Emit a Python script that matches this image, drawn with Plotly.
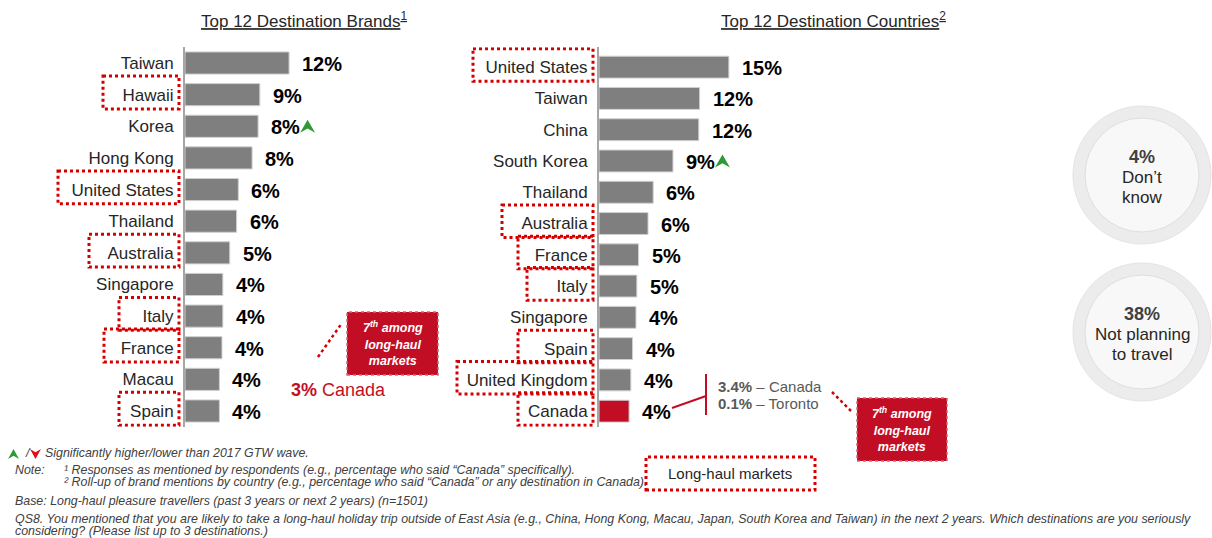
import plotly.graph_objects as go

W, H = 1212, 538

# left chart: destination brands
brands = ["Taiwan", "Hawaii", "Korea", "Hong Kong", "United States", "Thailand",
          "Australia", "Singapore", "Italy", "France", "Macau", "Spain"]
brand_vals = [12.1, 8.7, 8.5, 7.8, 6.2, 6.0, 5.2, 4.4, 4.4, 4.3, 4.0, 4.0]
brand_txt = ["12%", "9%", "8%", "8%", "6%", "6%", "5%", "4%", "4%", "4%", "4%", "4%"]
brand_up = ["Korea"]
brand_boxed = ["Hawaii", "United States", "Australia", "Italy", "France", "Spain"]

# right chart: destination countries
countries = ["United States", "Taiwan", "China", "South Korea", "Thailand", "Australia",
             "France", "Italy", "Singapore", "Spain", "United Kingdom", "Canada"]
country_vals = [15.1, 11.7, 11.6, 8.6, 6.3, 5.7, 4.6, 4.4, 4.3, 3.9, 3.7, 3.5]
country_txt = ["15%", "12%", "12%", "9%", "6%", "6%", "5%", "5%", "4%", "4%", "4%", "4%"]
country_up = ["South Korea"]
country_boxed = ["United States", "Australia", "France", "Italy", "Spain", "United Kingdom", "Canada"]

GRAY = "#7f7f7f"
RED = "#c20e25"
DOT_RED = "#d40000"
GREEN = "#2f9a35"
FONT = "Liberation Sans, Arial"
NARROW = "Liberation Sans Narrow, Arial Narrow, Liberation Sans"

# left edge (px) of the dotted boxes around highlighted labels
box_left = {
    "x": {"Hawaii": 103, "United States": 58, "Australia": 89, "Italy": 119, "France": 104, "Spain": 119},
    "x2": {"United States": 473, "Australia": 502, "France": 518, "Italy": 527, "Spain": 518,
           "United Kingdom": 457, "Canada": 518},
}
box_right = {"x": 179, "x2": 593}


def px(x):
    return x / W


def py(y):
    return 1 - y / H


def arrow(up=True, dx=0, w=15, h=13):
    # navigation-style arrowhead, pixel offsets (y up)
    s = 1 if up else -1
    return (f"M{dx + w / 2},{s * h / 2} L{dx + w},{-s * h / 2} L{dx + w / 2},{-s * h / 6} "
            f"L{dx},{-s * h / 2} Z")


def note(x, y, text, size=15, color="#262626", xanchor="left", family=None):
    f = dict(size=size, color=color)
    if family:
        f["family"] = family
    return dict(x=px(x), y=py(y), xref="paper", yref="paper", showarrow=False,
                xanchor=xanchor, yanchor="middle", text=text, font=f)


fig = go.Figure()

fig.add_trace(go.Bar(x=brand_vals, y=brands, orientation="h", width=0.7,
                     marker=dict(color=GRAY, line=dict(color="#d0d0d0", width=1)),
                     xaxis="x", yaxis="y", hoverinfo="skip"))
fig.add_trace(go.Bar(x=country_vals, y=countries, orientation="h", width=0.7,
                     marker=dict(color=[RED if c == "Canada" else GRAY for c in countries],
                                 line=dict(color="#d0d0d0", width=1)),
                     xaxis="x2", yaxis="y2", hoverinfo="skip"))

ydom = [py(426.8), py(47.2)]
yax = dict(domain=ydom, autorange="reversed", showgrid=False, zeroline=False,
           showline=True, linecolor="#a6a6a6", linewidth=2, ticks="",
           ticklabelstandoff=6, tickfont=dict(family=FONT, size=17, color="#262626"))

fig.update_layout(
    width=W, height=H, margin=dict(l=0, r=0, t=0, b=0),
    paper_bgcolor="white", plot_bgcolor="white", showlegend=False,
    font=dict(family=FONT, color="#262626"),
    xaxis=dict(domain=[px(185), px(185 + 258)], range=[0, 30], visible=False),
    yaxis=dict(anchor="x", categoryorder="array", categoryarray=brands, **yax),
    xaxis2=dict(domain=[px(599), px(599 + 258)], range=[0, 30], visible=False),
    yaxis2=dict(anchor="x2", categoryorder="array", categoryarray=countries, **yax),
)

ann = []
shapes = []

# value labels, arrows and dotted boxes
for xa, ya, cats, vals, txt, ups, boxed in [
        ("x", "y", brands, brand_vals, brand_txt, brand_up, brand_boxed),
        ("x2", "y2", countries, country_vals, country_txt, country_up, country_boxed)]:
    for i, (c, v, t) in enumerate(zip(cats, vals, txt)):
        ann.append(dict(x=v, y=c, xref=xa, yref=ya, text=f"<b>{t}</b>", showarrow=False,
                        xanchor="left", yanchor="middle", xshift=11, yshift=-1,
                        font=dict(size=20, color="#000000")))
        if c in ups:
            shapes.append(dict(type="path", xref=xa, yref=ya, xsizemode="pixel", ysizemode="pixel",
                               xanchor=v, yanchor=c, path=arrow(True, dx=12 + 11 * len(t) + 8),
                               fillcolor=GREEN, line=dict(width=0)))
        if c in boxed:
            shapes.append(dict(type="rect", xref="paper", yref=ya,
                               x0=px(box_left[xa][c]), x1=px(box_right[xa]),
                               y0=i - 0.59, y1=i + 0.45,
                               line=dict(color=DOT_RED, width=3, dash="dot")))

# titles
ann.append(note(304, 20, "<u>Top 12 Destination Brands<sup>1</sup></u>", size=17, xanchor="center"))
ann.append(note(834, 20, "<u>Top 12 Destination Countries<sup>2</sup></u>", size=17, xanchor="center"))

# left chart: Canada note
ann.append(note(289, 390, "<b>3%</b> Canada", size=18, color=RED))
shapes.append(dict(type="line", xref="paper", yref="paper", x0=px(318), y0=py(357), x1=px(342), y1=py(323),
                   line=dict(color=DOT_RED, width=2.5, dash="dot")))


def red_box(x0, y0, x1, y1):
    shapes.append(dict(type="rect", xref="paper", yref="paper", x0=px(x0), x1=px(x1), y0=py(y1), y1=py(y0),
                       fillcolor=RED, line=dict(color="#e0606f", width=1.5, dash="dot")))
    ann.append(note((x0 + x1) / 2, (y0 + y1) / 2,
                    "<b><i>7<sup>th</sup> among<br>long-haul<br>markets</i></b>",
                    size=12.5, color="white", xanchor="center"))


red_box(347, 312, 438, 375)
red_box(857, 398, 947, 461)

# right chart: Canada breakdown
shapes.append(dict(type="line", xref="paper", yref="paper", x0=px(672), y0=py(408), x1=px(706), y1=py(396),
                   line=dict(color=RED, width=2)))
shapes.append(dict(type="line", xref="paper", yref="paper", x0=px(706), y0=py(374), x1=px(706), y1=py(415),
                   line=dict(color=RED, width=2)))
ann.append(note(716, 386, "<b>3.4%</b> – Canada", color="#595959"))
ann.append(note(716, 403, "<b>0.1%</b> – Toronto", color="#595959"))
shapes.append(dict(type="line", xref="paper", yref="paper", x0=px(832), y0=py(392), x1=px(851), y1=py(411),
                   line=dict(color=DOT_RED, width=2.5, dash="dot")))

# long-haul legend box
shapes.append(dict(type="rect", xref="paper", yref="paper", x0=px(646), x1=px(815), y0=py(490), y1=py(457),
                   line=dict(color=DOT_RED, width=3, dash="dot")))
ann.append(note(730, 473, "Long-haul markets", xanchor="center"))

# circles on the right
for cy, lines in [(175, ["<b>4%</b>", "Don’t", "know"]), (332, ["<b>38%</b>", "Not planning", "to travel"])]:
    cx = 1142
    for r, fill, lc in [(69, "#ececec", "#e4e4e4"), (57, "#f8f8f8", "#dedede")]:
        shapes.append(dict(type="circle", xref="paper", yref="paper",
                           x0=px(cx - r), x1=px(cx + r), y0=py(cy + r), y1=py(cy - r),
                           fillcolor=fill, line=dict(color=lc, width=1)))
    for j, t in enumerate(lines):
        ann.append(note(cx, cy - 18 + j * 20, t, size=18 if j == 0 else 17,
                        color="#404040" if j == 0 else "#262626", xanchor="center"))

# footnotes
foot = [
    (43, 453, "Significantly higher/lower than 2017 GTW wave."),
    (23, 453, "/"),
    (13, 470, "Note:"),
    (62, 470, "¹ Responses as mentioned by respondents (e.g., percentage who said “Canada” specifically)."),
    (62, 482, "² Roll-up of brand mentions by country (e.g., percentage who said “Canada” or any destination in Canada)."),
    (13, 501, "Base: Long-haul pleasure travellers (past 3 years or next 2 years) (n=1501)"),
    (13, 519, "QS8. You mentioned that you are likely to take a long-haul holiday trip outside of East Asia "
              "(e.g., China, Hong Kong, Macau, Japan, South Korea and Taiwan) in the next 2 years. "
              "Which destinations are you seriously"),
    (13, 531, "considering? (Please list up to 3 destinations.)"),
]
for x, y, t in foot:
    ann.append(note(x, y, f"<i>{t}</i>", size=12.4, color="#404040", family=NARROW))
shapes.append(dict(type="path", xref="paper", yref="paper", xsizemode="pixel", ysizemode="pixel",
                   xanchor=px(8), yanchor=py(454), path=arrow(True, w=11, h=10),
                   fillcolor=GREEN, line=dict(width=0)))
shapes.append(dict(type="path", xref="paper", yref="paper", xsizemode="pixel", ysizemode="pixel",
                   xanchor=px(30), yanchor=py(454), path=arrow(False, w=11, h=10),
                   fillcolor="#e0101a", line=dict(width=0)))

fig.update_layout(annotations=ann, shapes=shapes)
fig.write_html("out.html", config={"displayModeBar": False})

# drop the browser's default page margin so the figure sits at 0,0
with open("out.html", encoding="utf-8") as f:
    page = f.read()
page = page.replace("<body>", '<body style="margin:0">', 1)
with open("out.html", "w", encoding="utf-8") as f:
    f.write(page)
